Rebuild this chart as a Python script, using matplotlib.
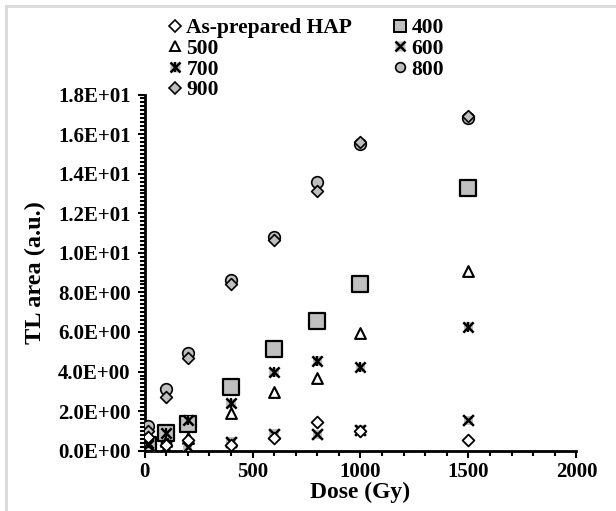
import numpy as np
import matplotlib.pyplot as plt
from matplotlib.ticker import MultipleLocator
from matplotlib.lines import Line2D
from matplotlib.legend_handler import HandlerTuple

plt.rcParams['font.family'] = ['Liberation Serif', 'DejaVu Serif']
plt.rcParams['font.weight'] = 'bold'

# TL area vs dose for the as-prepared HAP and the annealed samples
dose = [15, 100, 200, 400, 600, 800, 1000, 1500]
hap = [0.70, 0.30, 0.55, 0.30, 0.65, 1.45, 1.00, 0.53]
t400 = [0.28, 0.90, 1.33, 3.23, 5.12, 6.56, 8.43, 13.27]
t500 = [0.30, 0.50, 0.62, 1.90, 2.98, 3.69, 5.93, 9.10]
t600 = [0.30, 0.20, 0.20, 0.45, 0.84, 0.82, 1.04, 1.54]
t700 = [0.40, 0.90, 1.54, 2.40, 3.96, 4.53, 4.21, 6.27]
t800 = [1.26, 3.10, 4.94, 8.63, 10.80, 13.60, 15.50, 16.80]
t900 = [1.00, 2.70, 4.70, 8.45, 10.65, 13.10, 15.60, 16.90]

grey = '#bfbfbf'

fig = plt.figure(figsize=(6.16, 5.11), dpi=100)
ax = fig.add_axes([0.2347, 0.118, 0.701, 0.697])

ax.scatter(dose, t800, marker='o', s=70, facecolor=grey, edgecolor='k', linewidth=1.2, zorder=3)
ax.scatter(dose, t900, marker='D', s=36, facecolor=grey, edgecolor='k', linewidth=1.2, zorder=4)
ax.scatter(dose, t400, marker='s', s=120, facecolor=grey, edgecolor='k', linewidth=1.6, zorder=3)
ax.scatter(dose, t500, marker='^', s=60, facecolor='white', edgecolor='k', linewidth=1.5, zorder=4)
ax.scatter(dose, t600, marker='s', s=45, facecolor=grey, edgecolor='none', zorder=4)
ax.scatter(dose, t600, marker='x', s=60, color='k', linewidth=1.8, zorder=5)
ax.scatter(dose, t700, marker='s', s=45, facecolor=grey, edgecolor='none', zorder=4)
ax.scatter(dose, t700, marker='x', s=55, color='k', linewidth=1.8, zorder=5)
ax.scatter(dose, t700, marker='|', s=60, color='k', linewidth=1.6, zorder=5)
ax.scatter(dose, hap, marker='D', s=36, facecolor='white', edgecolor='k', linewidth=1.3, zorder=6)

ax.set_xlim(0, 2000)
ax.set_ylim(0, 18)
ax.xaxis.set_major_locator(MultipleLocator(500))
ax.xaxis.set_minor_locator(MultipleLocator(100))
ax.yaxis.set_major_locator(MultipleLocator(2))
ax.yaxis.set_minor_locator(MultipleLocator(0.2))


def sci(v, pos):
    if v <= 0:
        return '0.0E+00'
    e = int(np.floor(np.log10(v)))
    return '%.1fE%+03d' % (v / 10 ** e, e)


ax.yaxis.set_major_formatter(plt.FuncFormatter(sci))

for s in ['top', 'right']:
    ax.spines[s].set_visible(False)
for s in ['left', 'bottom']:
    ax.spines[s].set_linewidth(2)
ax.tick_params(which='major', direction='out', length=5, width=1.5, labelsize=15)
ax.tick_params(which='minor', direction='out', length=3.5, width=1.5)
ax.tick_params(axis='y', which='major', pad=5)
ax.tick_params(axis='x', which='major', pad=3)

ax.set_xlabel('Dose (Gy)', fontsize=17, fontweight='bold', labelpad=0)
ax.set_ylabel('TL area (a.u.)', fontsize=17.5, fontweight='bold', labelpad=9)


# legend entries
def mk(marker, size, face, edge='k', lw=1.2):
    return Line2D([], [], linestyle='none', marker=marker, markersize=size,
                  markerfacecolor=face, markeredgecolor=edge, markeredgewidth=lw)


bg = Line2D([], [], linestyle='none', marker='s', markersize=7, markerfacecolor=grey, markeredgecolor='none')
handles = [mk('D', 6, 'white'), mk('^', 7, 'white', lw=1.4),
           (bg, mk('x', 7, 'k', lw=1.8), mk('|', 7, 'k', lw=1.6)), mk('D', 6, grey),
           mk('s', 9, grey, lw=1.4), (bg, mk('x', 7, 'k', lw=1.8)), mk('o', 7, grey)]
labels = ['As-prepared HAP', '500', '700', '900', '400', '600', '800']
fig.legend(handles, labels, ncol=2, loc='upper left', bbox_to_anchor=(0.245, 0.998),
           frameon=False, prop={'weight': 'bold', 'size': 15.5},
           handlelength=0.6, handletextpad=0.25, columnspacing=1.9, labelspacing=0.03,
           borderpad=0.3, handler_map={tuple: HandlerTuple(ndivide=1, pad=0)})

# thin grey border at the top and left edges
fig.add_artist(Line2D([0.009, 0.009], [0, 0.989], transform=fig.transFigure, color='#d9d9d9', linewidth=2))
fig.add_artist(Line2D([0.009, 1], [0.989, 0.989], transform=fig.transFigure, color='#d9d9d9', linewidth=2))

fig.savefig('out.png', dpi=100)
